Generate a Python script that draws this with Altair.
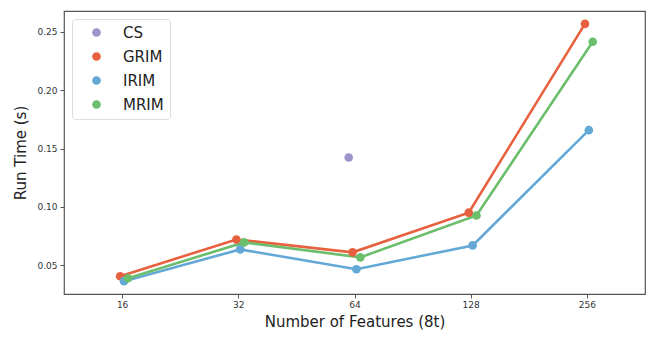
import altair as alt
import pandas as pd

categories = ["16", "32", "64", "128", "256"]
series_names = ["CS", "GRIM", "IRIM", "MRIM"]
cs = [None, None, 0.1423, None, None]
grim = [0.0406, 0.0721, 0.0611, 0.0951, 0.2568]
irim = [0.0364, 0.0636, 0.0466, 0.0670, 0.1657]
mrim = [0.0389, 0.0696, 0.0568, 0.0926, 0.2415]
colors = ["#9d94cc", "#e8613f", "#64a9d6", "#6bbf6c"]

rows = []
for s_i, (name, vals) in enumerate(zip(series_names, [cs, grim, irim, mrim])):
    for c_i, (cat, v) in enumerate(zip(categories, vals)):
        if v is None:
            continue
        rows.append({"series": name, "feature": cat, "idx": c_i, "sidx": s_i, "time": v})
df = pd.DataFrame(rows)

n = len(series_names)
dodge = 0.025 * n
step = dodge / (n - 1)
label_expr = "[" + ",".join(f"'{c}'" for c in categories) + "][datum.value]"

FONT = "DejaVu Sans"

base = alt.Chart(df).transform_calculate(
    pos=f"datum.idx + datum.sidx * {step} - {dodge / 2}"
)

x_enc = alt.X(
    "pos:Q",
    scale=alt.Scale(domain=[-0.5, len(categories) - 0.5], nice=False, zero=False),
    axis=alt.Axis(
        values=list(range(len(categories))),
        labelExpr=label_expr,
        title="Number of Features (8t)",
        grid=False,
        tickSize=4,
        labelPadding=2,
        titlePadding=5,
    ),
)
y_enc = alt.Y(
    "time:Q",
    scale=alt.Scale(domain=[0.0254, 0.2678], nice=False, zero=False),
    axis=alt.Axis(
        values=[0.05, 0.10, 0.15, 0.20, 0.25],
        format=".2f",
        title="Run Time (s)",
        grid=False,
        tickSize=4,
        labelPadding=3,
        titlePadding=8,
    ),
)
color_enc = alt.Color(
    "series:N",
    scale=alt.Scale(domain=series_names, range=colors),
    legend=alt.Legend(
        title=None,
        orient="none",
        legendX=8,
        legendY=8,
        padding=6,
        symbolOffset=11,
        labelOffset=19,
        rowPadding=8,
        symbolType="circle",
        symbolSize=75,
        symbolStrokeWidth=0,
        symbolOpacity=1,
        labelFontSize=15,
        labelFont=FONT,
        labelColor="#222",
        strokeColor="#dddddd",
        fillColor="white",
        cornerRadius=3,
    ),
)

lines = base.mark_line(strokeWidth=2.6).encode(x=x_enc, y=y_enc, color=color_enc, detail="series:N")
points = base.mark_circle(size=75, opacity=1).encode(x=x_enc, y=y_enc, color=color_enc)

chart = (
    alt.layer(lines, points)
    .properties(
        width=581,
        height=283,
        autosize=alt.AutoSizeParams(type="none"),
        padding={"left": 56, "top": 3, "right": 10, "bottom": 50},
    )
    .configure_view(stroke="#555555", strokeWidth=1.2)
    .configure_axis(
        labelFont=FONT,
        titleFont=FONT,
        labelFontSize=9,
        titleFontSize=15,
        titleFontWeight="normal",
        labelColor="#333",
        titleColor="#222",
        tickColor="#555",
        domain=False,
    )
)

chart.save("out.html", embed_options={"renderer": "svg", "actions": False})
